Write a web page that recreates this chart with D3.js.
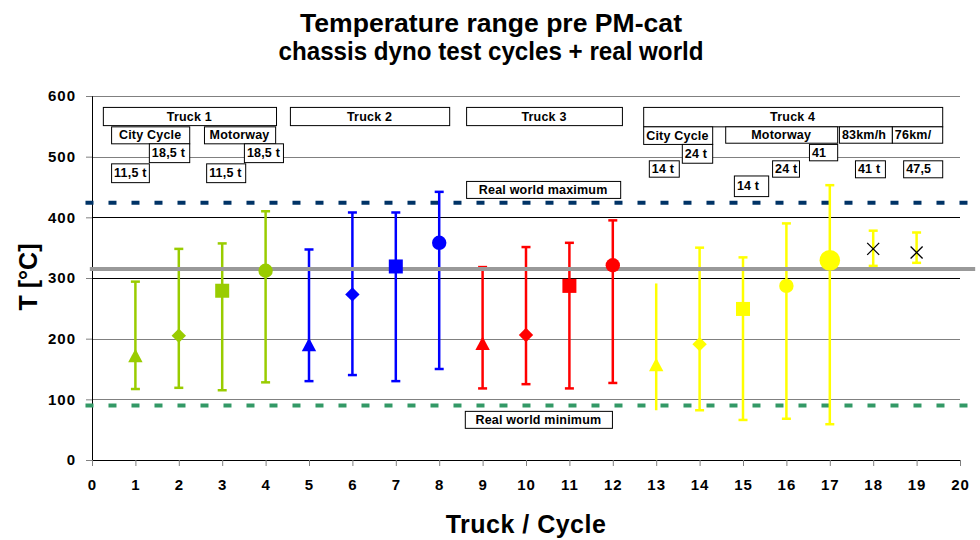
<!DOCTYPE html>
<html><head><meta charset="utf-8">
<script src="https://cdn.jsdelivr.net/npm/d3@7"></script>
<style>
body{margin:0;background:#fff;}
text{font-family:"Liberation Sans",Arial,Helvetica,sans-serif;font-weight:bold;}
</style></head>
<body><svg id="c" width="980" height="540"></svg>
<script>
// ---------- data ----------
const cycles = [1,2,3,4,5,6,7,8,9,10,11,12,13,14,15,16,17,18,19];
const means  = [172,205,279,312,190,273,319,358,192,206,287,321,157,191,249,287,329,348,342];
const highs  = [294,348,357,410,347,408,408,442,318,351,358,395,291,350,334,390,453,378,375];
const lows   = [117,119,115,128,130,140,130,150,118,125,118,127,82,82,66,68,59,320,325];
const truckOf = [1,1,1,1,2,2,2,2,3,3,3,3,4,4,4,4,4,4,4];
const shapes = ["tri","dia","sq","circ","tri","dia","sq","circ","tri","dia","sq","circ","tri","dia","sq","circ","bigcirc","x","x"];
const caps   = [1,1,1,1,1,1,1,1,1,1,1,1,0,1,1,1,1,1,1];
const truckColors = ["#99CC00","#0000FF","#FF0000","#FFFF00"];
const realWorldMax = 424, realWorldMin = 90, average = 315;
const xTicks = d3.range(0,21,1);
const yTicks = [0,100,200,300,400,500,600];
// annotation boxes (data units): [label, x0, x1, yTop, yBottom, align]
const annotations = [
  ["Truck 1",0.25,4.24,582,552,"middle"],
  ["Truck 2",4.56,8.23,582,552,"middle"],
  ["Truck 3",8.62,12.21,582,552,"middle"],
  ["Truck 4",12.70,19.59,582,550,"middle"],
  ["City Cycle",0.44,2.24,550,522,"middle"],
  ["Motorway",2.58,4.22,550,522,"middle"],
  ["City Cycle",12.70,14.29,550,521,"start"],
  ["Motorway",14.59,17.17,550,523,"middle"],
  ["83km/h",17.21,18.43,550,523,"start"],
  ["76km/",18.43,19.59,550,523,"start"],
  ["18,5 t",1.31,2.24,522,491,"start"],
  ["18,5 t",3.50,4.40,522,491,"start"],
  ["11,5 t",0.44,1.31,489,458,"start"],
  ["11,5 t",2.63,3.53,489,458,"start"],
  ["24 t",13.59,14.29,521,490,"start"],
  ["41",16.52,17.17,521,494,"start"],
  ["14 t",12.83,13.52,494,467,"start"],
  ["24 t",15.67,16.29,494,467,"start"],
  ["14 t",14.79,15.58,469,435,"start"],
  ["41 t",17.58,18.27,494,466,"start"],
  ["47,5",18.69,19.59,494,466,"start"],
  ["Real world maximum",8.62,12.17,460,432,"middle"],
  ["Real world minimum",8.59,11.98,81,53,"middle"]
];

// ---------- chart ----------
const svg = d3.select("#c");
const x = d3.scaleLinear().domain([0,20]).range([92,960]);
const y = d3.scaleLinear().domain([0,600]).range([460,96]);

// titles
svg.append("text").attr("x",491).attr("y",32).attr("text-anchor","middle").attr("font-size",25.5)
  .attr("textLength",382).attr("lengthAdjust","spacingAndGlyphs").text("Temperature range pre PM-cat");
svg.append("text").attr("x",491).attr("y",60).attr("text-anchor","middle").attr("font-size",25.5)
  .attr("textLength",425).attr("lengthAdjust","spacingAndGlyphs").text("chassis dyno test cycles + real world");

// gridlines
svg.append("g").selectAll("line").data(yTicks.filter(d=>d>0)).join("line")
  .attr("x1",x(0)).attr("x2",x(20)).attr("y1",d=>Math.round(y(d))+0.5).attr("y2",d=>Math.round(y(d))+0.5)
  .attr("stroke",d=>(d===300||d===400)?"#000":"#808080").attr("stroke-width",1);

// axes
const yAxis = d3.axisLeft(y).tickValues(yTicks).tickSize(6).tickPadding(10);
const gy = svg.append("g").attr("transform",`translate(${x(0)},0)`).call(yAxis);
gy.select(".domain").attr("stroke","#000");
gy.selectAll(".tick line").attr("stroke","#808080");
gy.selectAll("text").attr("font-size",15).attr("letter-spacing",1).attr("font-family","Liberation Sans, Arial, sans-serif").attr("font-weight","bold").attr("fill","#000");

const xAxis = d3.axisBottom(x).tickValues(xTicks).tickSize(6).tickPadding(13).tickFormat(d3.format("d"));
const gx = svg.append("g").attr("transform",`translate(0,${y(0)})`).call(xAxis);
gx.select(".domain").attr("stroke","#000");
gx.selectAll(".tick line").attr("stroke","#808080");
gx.selectAll("text").attr("font-size",15).attr("letter-spacing",1).attr("font-family","Liberation Sans, Arial, sans-serif").attr("font-weight","bold").attr("fill","#000");

// axis titles
svg.append("text").attr("transform",`translate(37,${y(300)-1}) rotate(-90)`).attr("text-anchor","middle").attr("font-size",25).text("T [°C]");
svg.append("text").attr("x",526).attr("y",533).attr("text-anchor","middle").attr("font-size",25).attr("letter-spacing",0.5).text("Truck / Cycle");

// reference lines
svg.append("line").attr("x1",x(-0.15)).attr("x2",x(20.35)).attr("y1",y(realWorldMax)).attr("y2",y(realWorldMax))
  .attr("stroke","#003366").attr("stroke-width",4).attr("stroke-dasharray","8,15");
svg.append("line").attr("x1",x(-0.15)).attr("x2",x(20.35)).attr("y1",y(realWorldMin)).attr("y2",y(realWorldMin))
  .attr("stroke","#339966").attr("stroke-width",4).attr("stroke-dasharray","8,15");

// annotation boxes
const ann = svg.append("g").selectAll("g").data(annotations).join("g");
ann.append("rect").attr("x",d=>x(d[1])+0.5).attr("y",d=>y(d[3])+0.5)
  .attr("width",d=>x(d[2])-x(d[1])).attr("height",d=>y(d[4])-y(d[3]))
  .attr("fill","#fff").attr("stroke","#000").attr("stroke-width",1);
ann.append("text").attr("x",d=>d[5]==="middle"?(x(d[1])+x(d[2]))/2:x(d[1])+3)
  .attr("y",d=>(y(d[3])+y(d[4]))/2+4.5).attr("text-anchor",d=>d[5]).attr("font-size",12.5).attr("letter-spacing",0.2).text(d=>d[0]);

// error bars
const pts = cycles.map((c,i)=>({c,m:means[i],h:highs[i],l:lows[i],col:truckColors[truckOf[i]-1],shape:shapes[i],cap:caps[i]}));
const gb = svg.append("g");
pts.forEach(p=>{
  gb.append("line").attr("x1",x(p.c)).attr("x2",x(p.c)).attr("y1",y(p.h)).attr("y2",y(p.l)).attr("stroke",p.col).attr("stroke-width",2.5);
  if(p.cap){
    [p.h,p.l].forEach(v=>gb.append("line").attr("x1",x(p.c)-4.5).attr("x2",x(p.c)+4.5).attr("y1",y(v)).attr("y2",y(v)).attr("stroke",p.col).attr("stroke-width",2.5));
  }
});

// average line
svg.append("line").attr("x1",x(-0.05)).attr("x2",x(20.35)).attr("y1",y(average)).attr("y2",y(average))
  .attr("stroke","#999").attr("stroke-width",4);

// markers on top
const gm = svg.append("g");
pts.forEach(p=>{
  const cx = x(p.c), cy = y(p.m);
  if(p.shape==="tri"){
    gm.append("path").attr("d",`M${cx},${cy-7}L${cx+7.2},${cy+6.5}L${cx-7.2},${cy+6.5}Z`).attr("fill",p.col);
  } else if(p.shape==="dia"){
    gm.append("path").attr("d",`M${cx},${cy-7.2}L${cx+7.2},${cy}L${cx},${cy+7.2}L${cx-7.2},${cy}Z`).attr("fill",p.col);
  } else if(p.shape==="sq"){
    gm.append("rect").attr("x",cx-7).attr("y",cy-7).attr("width",14).attr("height",14).attr("fill",p.col);
  } else if(p.shape==="circ"){
    gm.append("circle").attr("cx",cx).attr("cy",cy).attr("r",7.2).attr("fill",p.col);
  } else if(p.shape==="bigcirc"){
    gm.append("circle").attr("cx",cx).attr("cy",cy).attr("r",10.3).attr("fill",p.col);
  } else if(p.shape==="x"){
    gm.append("path").attr("d",`M${cx-6},${cy-6}L${cx+6},${cy+6}M${cx+6},${cy-6}L${cx-6},${cy+6}`).attr("stroke","#000").attr("stroke-width",1.3);
  }
});
</script></body></html>
